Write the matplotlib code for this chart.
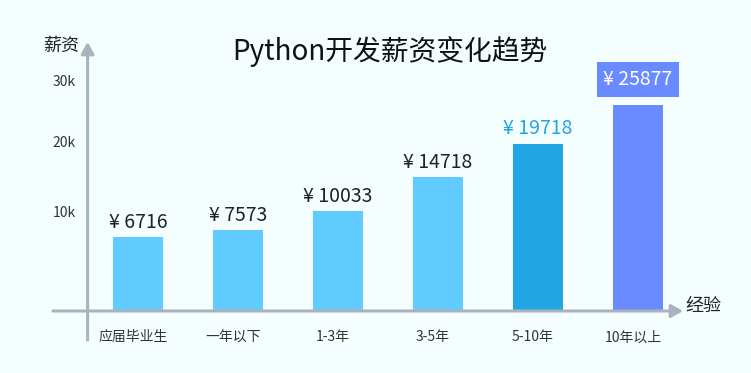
import numpy as np
import matplotlib.pyplot as plt
from matplotlib.transforms import ScaledTranslation

plt.rcParams['font.family'] = ['Noto Sans CJK SC', 'DejaVu Sans']

# data
categories = ['应届毕业生', '一年以下', '1-3年', '3-5年', '5-10年', '10年以上']
salaries = [6716, 7573, 10033, 14718, 19718, 25877]
y_ticks = [10000, 20000, 30000]
y_tick_labels = ['10k', '20k', '30k']

bg = '#f5fefe'
axis_color = '#aab3bd'
light_blue = '#5fcbff'
mid_blue = '#22a6e3'
violet = '#6a8aff'
bar_colors = [light_blue] * 4 + [mid_blue, violet]

# the original chart is compressed towards the top, a power scale fits it well
power = 0.76
def forward(v):
    return np.power(np.clip(v, 0, None), power)

def inverse(t):
    return np.power(np.clip(t, 0, None), 1 / power)

fig = plt.figure(figsize=(7.51, 3.73), dpi=100, facecolor=bg)
ax = fig.add_axes([87 / 751, 62 / 373, 598 / 751, 269 / 373])
ax.set_facecolor(bg)
ax.set_yscale('function', functions=(forward, inverse))

x = np.arange(len(categories))
ax.bar(x, salaries, width=0.5, color=bar_colors, zorder=2)
ax.set_xlim(-0.51, 5.47)
ax.set_ylim(0, 36800)

for s in ax.spines.values():
    s.set_visible(False)

# axis lines with arrow heads
arrow = dict(arrowstyle='-|>,head_length=0.5,head_width=0.28', color=axis_color,
             lw=2.2, shrinkA=0, shrinkB=0, mutation_scale=14)
ax.annotate('', xy=(0.9967, 0), xytext=(-0.057, 0), xycoords='axes fraction',
            arrowprops=arrow, annotation_clip=False)
ax.annotate('', xy=(0.001, 1.0), xytext=(0.001, -0.108), xycoords='axes fraction',
            arrowprops=arrow, annotation_clip=False)

# ticks
ax.set_xticks(x, categories)
ax.tick_params(axis='x', length=0, pad=14, labelsize=10, labelcolor='#333333')
shift = ScaledTranslation(-5 / 100, 0, fig.dpi_scale_trans)
for lbl in ax.get_xticklabels():
    lbl.set_transform(lbl.get_transform() + shift)
ax.set_yticks(y_ticks, y_tick_labels)
ax.tick_params(axis='y', length=0, pad=8, labelsize=10, labelcolor='#333333')

# value labels
for i, v in enumerate(salaries):
    if i == len(salaries) - 1:
        ax.annotate(f'¥ {v}', (x[i], v), xytext=(0, 11), textcoords='offset points',
                    ha='center', va='bottom', fontsize=14, color='white',
                    bbox=dict(boxstyle='square,pad=0.35', fc=violet, ec='none'))
    else:
        color = mid_blue if i == 4 else '#222222'
        ax.annotate(f'¥ {v}', (x[i], v), xytext=(0, 3), textcoords='offset points',
                    ha='center', va='bottom', fontsize=14, color=color)

# titles
fig.text(390 / 751, 1 - 52 / 373, 'Python开发薪资变化趋势', fontsize=20,
         ha='center', va='center', color='#111111')
fig.text(61 / 751, 1 - 46 / 373, '薪资', fontsize=13, ha='center', va='center', color='#222222')
fig.text(703 / 751, 1 - 306 / 373, '经验', fontsize=13, ha='center', va='center', color='#222222')

fig.savefig('out.png', dpi=100, facecolor=bg)
